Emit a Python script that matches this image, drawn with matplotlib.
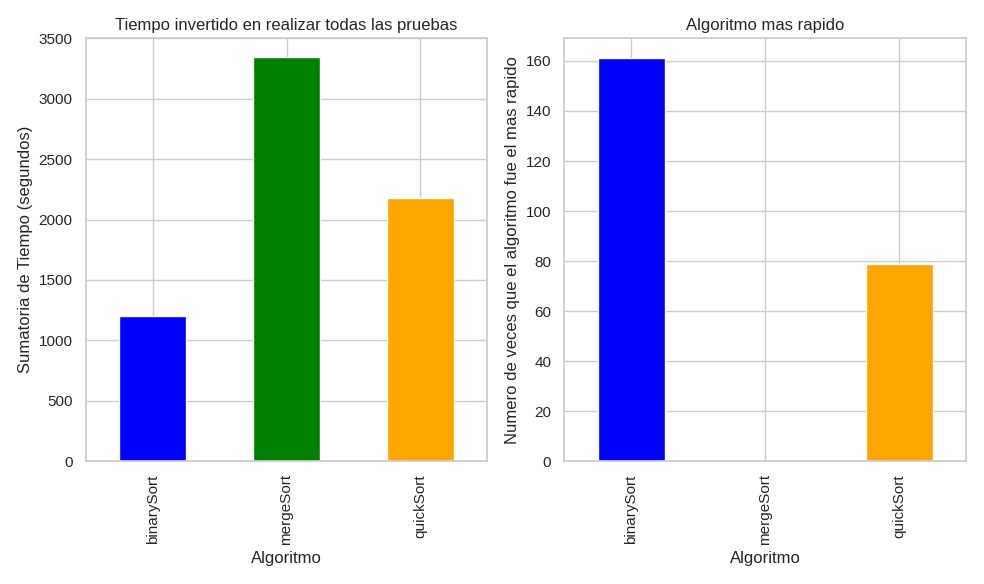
import matplotlib
matplotlib.use("Agg")
import matplotlib.pyplot as plt
import seaborn as sns
import pandas as pd

algoritmos = ["binarySort", "mergeSort", "quickSort"]
tiempo_total = [1200, 3345, 2175]
veces_mas_rapido = [161, 0, 79]
colores = ["blue", "green", "orange"]

sns.set_theme(style="whitegrid")
plt.rcParams["font.family"] = ["Liberation Sans", "DejaVu Sans"]

fig, (ax1, ax2) = plt.subplots(1, 2, figsize=(9.84, 5.84), dpi=100)

pd.Series(tiempo_total, index=algoritmos).plot(kind="bar", ax=ax1, color=colores)
ax1.set_title("Tiempo invertido en realizar todas las pruebas")
ax1.set_xlabel("Algoritmo")
ax1.set_ylabel("Sumatoria de Tiempo (segundos)")
ax1.set_ylim(0, 3500)

pd.Series(veces_mas_rapido, index=algoritmos).plot(kind="bar", ax=ax2, color=colores)
ax2.set_title("Algoritmo mas rapido")
ax2.set_xlabel("Algoritmo")
ax2.set_ylabel("Numero de veces que el algoritmo fue el mas rapido")

plt.tight_layout()
plt.savefig("out.png")
